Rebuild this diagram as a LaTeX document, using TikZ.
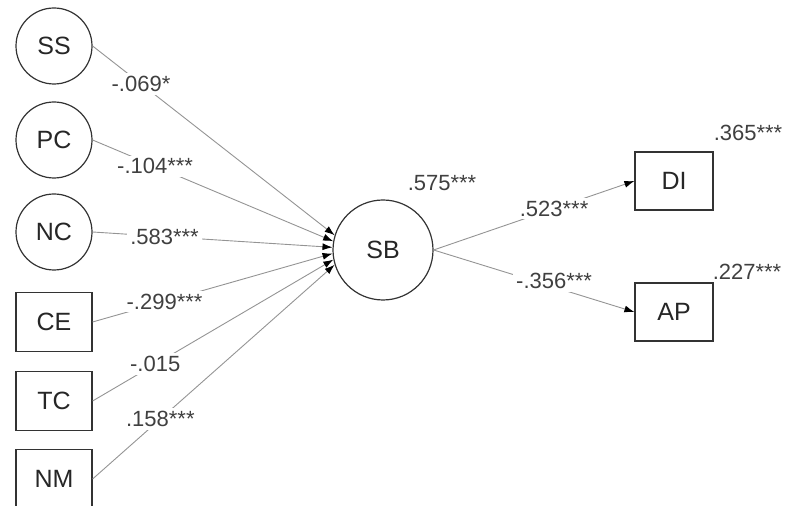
\documentclass[tikz,border=0pt]{standalone}
\usepackage{fontspec}
\setmainfont{Liberation Sans}
\usetikzlibrary{arrows.meta}

\begin{document}
\begin{tikzpicture}[x=0.5pt, y=-0.5pt, font=\fontsize{11}{13}\selectfont,
  >={Latex[length=5pt, width=3.5pt, black]},
  latent/.style={circle, draw=black!80, line width=0.6pt, minimum size=38pt, inner sep=0pt, text=black!85, font=\fontsize{12.5}{14}\selectfont},
  observed/.style={rectangle, draw=black!80, line width=0.6pt, minimum width=38pt, minimum height=29.5pt, inner sep=0pt, text=black!85, font=\fontsize{12.5}{14}\selectfont},
  effect/.style={draw=black!42, line width=0.45pt, ->},
  coef/.style={fill=white, inner sep=1.5pt, text=black!75}]
  \useasboundingbox (0,0) rectangle (786,506);
  \clip (0,0) rectangle (786,506);
  \node[latent] (SS) at (54,46) {SS};
  \node[latent] (PC) at (54,140) {PC};
  \node[latent] (NC) at (54,232) {NC};
  \node[observed] (CE) at (54,322) {CE};
  \node[observed] (TC) at (54,401) {TC};
  \node[observed] (NM) at (54,479) {NM};
  \node[latent, minimum size=50pt] (SB) at (383,250) {SB};
  \node[observed, minimum width=39pt, minimum height=29pt] (DI) at (674,181) {DI};
  \node[observed, minimum width=39pt, minimum height=29pt] (AP) at (674,312) {AP};
  \draw[effect] (SS.east) -- (SB.163) node[coef, pos=0.2] (cSS) {-.069*};
  \draw[effect] (PC.east) -- (SB.170) node[coef, pos=0.26] (cPC) {-.104***};
  \draw[effect] (NC.east) -- (SB.177) node[coef, pos=0.3] (cNC) {.583***};
  \draw[effect] (CE.east) -- (SB.184) node[coef, pos=0.3] (cCE) {-.299***};
  \draw[effect] (TC.east) -- (SB.191) node[coef, pos=0.26] (cTC) {-.015};
  \draw[effect] (NM.east) -- (SB.197) node[coef, pos=0.28] (cNM) {.158***};
  \draw[effect] (SB.east) -- (DI.west) node[coef, pos=0.6] (cDI) {.523***};
  \draw[effect] (SB.east) -- (AP.west) node[coef, pos=0.6, yshift=3pt] (cAP) {-.356***};
  \node[text=black!75] (rSB) at (442,183) {.575***};
  \node[text=black!75] (rDI) at (748,133) {.365***};
  \node[text=black!75] (rAP) at (747,272) {.227***};
\end{tikzpicture}
\end{document}
